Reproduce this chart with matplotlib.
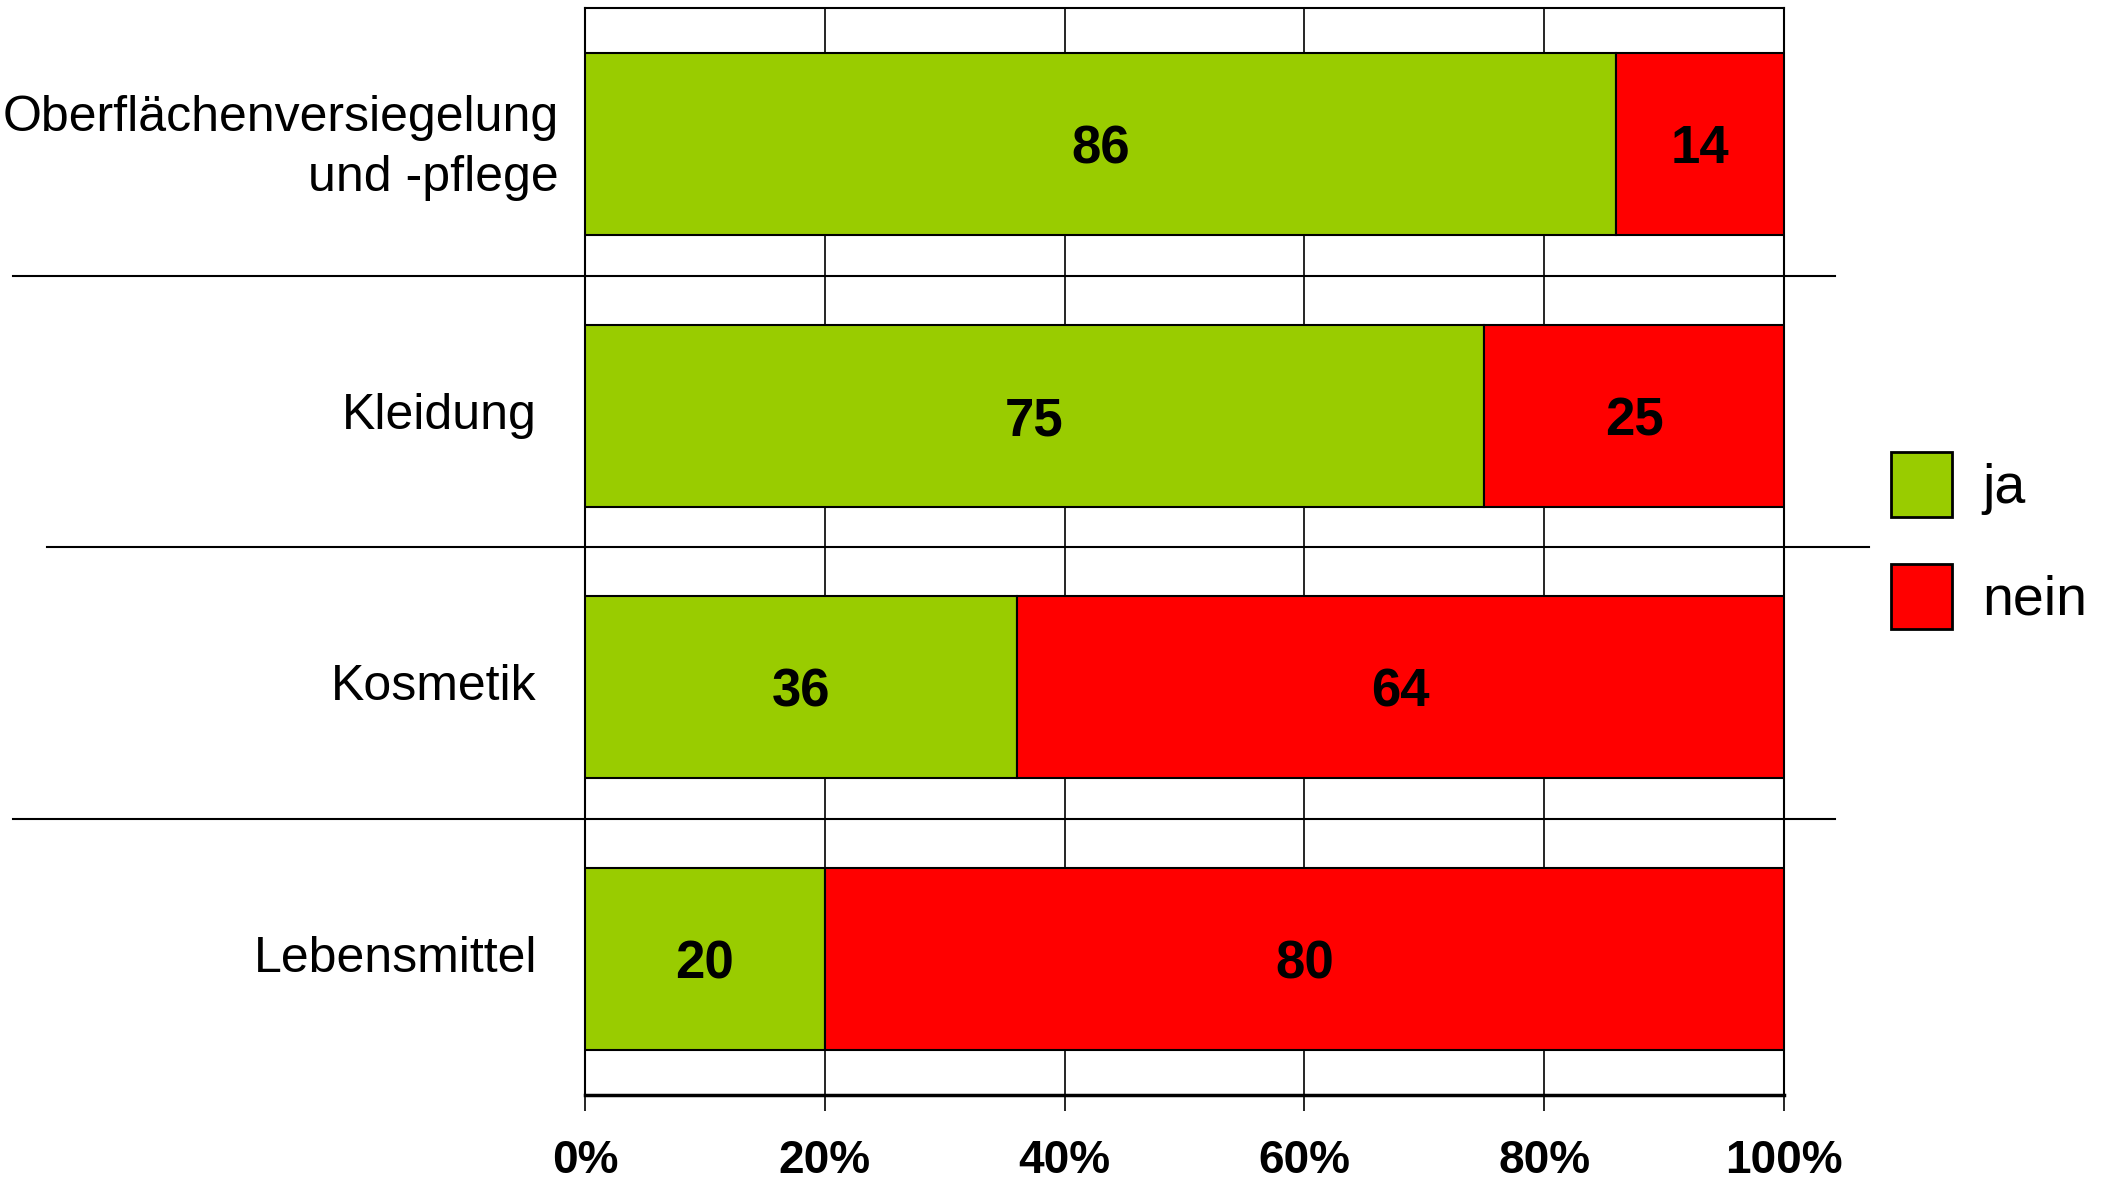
import matplotlib.pyplot as plt
from matplotlib.lines import Line2D

plt.rcParams['font.family'] = ['Liberation Sans', 'DejaVu Sans']

# data
categories = ['Oberflächenversiegelung\nund -pflege', 'Kleidung', 'Kosmetik', 'Lebensmittel']
ja = [86, 75, 36, 20]
nein = [14, 25, 64, 80]
xticks = [0, 20, 40, 60, 80, 100]
xticklabels = ['0%', '20%', '40%', '60%', '80%', '100%']

green = '#99CC00'
red = '#FF0000'

fig = plt.figure(figsize=(21.11, 11.82), dpi=100)
ax = fig.add_axes([0.2771, 0.0736, 0.568, 0.9196])

y = list(range(len(categories)))
ax.barh(y, ja, height=0.67, color=green, edgecolor='black', linewidth=1.5, label='ja', zorder=3)
ax.barh(y, nein, left=ja, height=0.67, color=red, edgecolor='black', linewidth=1.5, label='nein', zorder=3)

# value labels
for i in range(len(categories)):
    ax.text(ja[i] / 2, i, str(ja[i]), ha='center', va='center_baseline', fontsize=38, fontweight='bold', zorder=4)
    ax.text(ja[i] + nein[i] / 2, i, str(nein[i]), ha='center', va='center_baseline', fontsize=38,
            fontweight='bold', zorder=4)

ax.set_xlim(0, 100)
ax.set_ylim(3.5, -0.5)
ax.set_xticks(xticks)
ax.set_xticklabels(xticklabels, fontsize=33, fontweight='bold')
ax.tick_params(axis='x', length=11.5, width=1.2, pad=20, color='black')
ax.set_yticks([])

ax.grid(axis='x', color='black', linewidth=1.2, zorder=0)
ax.set_axisbelow(True)
for s in ['top', 'left', 'right']:
    ax.spines[s].set_linewidth(1.5)
ax.spines['bottom'].set_linewidth(2.5)

# category labels
label_x = [-0.022, -0.040, -0.040, -0.040]
label_y = [0.015, 0, 0, 0]
for i, c in enumerate(categories):
    ax.text(label_x[i], i + label_y[i], c, transform=ax.get_yaxis_transform(), ha='right', va='center',
            fontsize=36, linespacing=1.37)

# separator lines between categories
sep = [(0.485, -0.477, 1.0425), (1.485, -0.449, 1.071), (2.485, -0.477, 1.0425)]
for yy, x0, x1 in sep:
    ax.add_line(Line2D([x0, x1], [yy, yy], transform=ax.get_yaxis_transform(), color='black',
                       linewidth=1.5, clip_on=False, zorder=5))

leg = ax.legend(loc='upper left', bbox_to_anchor=(1.071, 0.612), frameon=False, fontsize=40,
                handlelength=1.1, handleheight=1.41, labelspacing=0.855, handletextpad=0.53,
                borderaxespad=0)
for h in leg.legend_handles:
    h.set_linewidth(2)

fig.savefig('out.png', dpi=100)
